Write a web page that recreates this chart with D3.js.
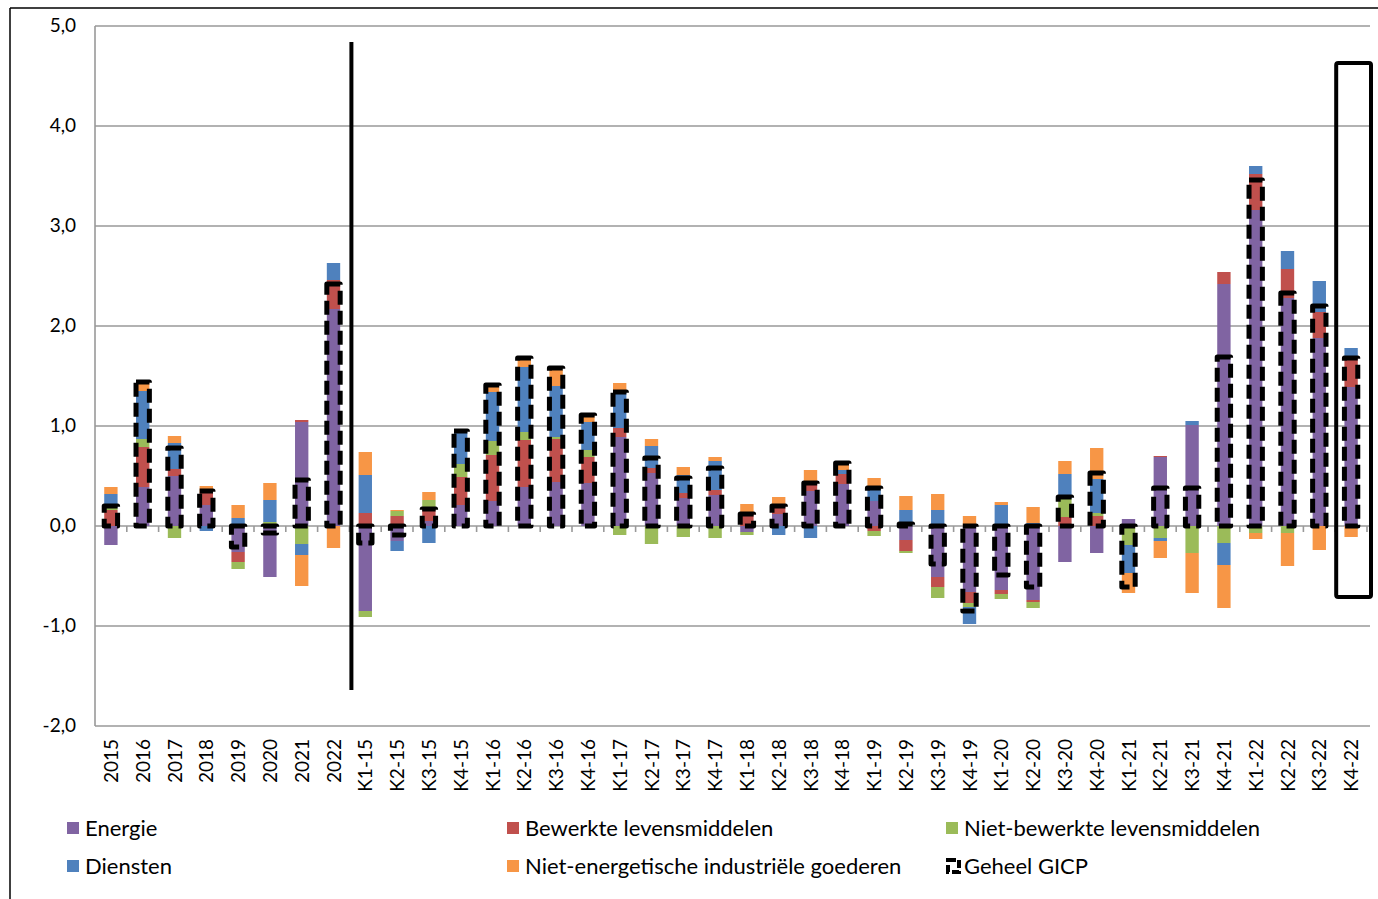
<!DOCTYPE html>
<html>
<head>
  <title>Bijdragen tot de GICP-inflatie</title>
  <style>
    body { margin: 0; background: #fff; }
    text { font-family: Lato, "Open Sans", sans-serif; fill: #000; }
    .grid line { stroke: #999; stroke-width: 1.6px; }
    .ytick { font-size: 19px; }
    .xtick { font-size: 19px; }
    .legend text { font-size: 22px; }
  </style>
</head>
<body>
  <svg id="chart" width="1378" height="899"></svg>

  <script src="https://d3js.org/d3.v7.min.js"></script>
  <script>
    // Categories: annual averages, then quarters
    const categories = ["2015", "2016", "2017", "2018", "2019", "2020", "2021", "2022",
      "K1-15", "K2-15", "K3-15", "K4-15", "K1-16", "K2-16", "K3-16", "K4-16",
      "K1-17", "K2-17", "K3-17", "K4-17", "K1-18", "K2-18", "K3-18", "K4-18",
      "K1-19", "K2-19", "K3-19", "K4-19", "K1-20", "K2-20", "K3-20", "K4-20",
      "K1-21", "K2-21", "K3-21", "K4-21", "K1-22", "K2-22", "K3-22", "K4-22"];

    const energie = [-0.19, 0.39, 0.50, 0.21, -0.26, -0.51, 1.04, 2.17,
      -0.85, -0.15, 0.05, 0.21, 0.25, 0.39, 0.44, 0.43,
      0.89, 0.53, 0.28, 0.31, -0.06, 0.12, 0.35, 0.42,
      0.25, -0.14, -0.51, -0.66, -0.64, -0.74, -0.36, -0.27,
      0.07, 0.69, 1.01, 2.42, 3.16, 2.28, 1.88, 1.39];

    const bewerkte = [0.16, 0.40, 0.07, 0.12, -0.10, 0.00, 0.02, 0.29,
      0.13, 0.10, 0.13, 0.28, 0.46, 0.47, 0.43, 0.26,
      0.09, 0.05, 0.05, 0.05, 0.14, 0.09, 0.09, 0.10,
      -0.05, -0.11, -0.10, -0.11, -0.04, -0.02, 0.09, 0.10,
      -0.02, 0.01, 0.00, 0.12, 0.36, 0.29, 0.26, 0.31];

    const nietBewerkte = [0.02, 0.08, -0.12, 0.00, -0.07, 0.04, -0.18, 0.00,
      -0.06, 0.05, 0.08, 0.13, 0.14, 0.08, 0.02, 0.07,
      -0.09, -0.18, -0.11, -0.12, -0.03, 0.00, 0.00, 0.00,
      -0.05, -0.02, -0.11, -0.04, -0.05, -0.06, 0.18, 0.03,
      -0.17, -0.12, -0.27, -0.17, -0.07, -0.07, 0.00, 0.00];

    const diensten = [0.14, 0.48, 0.26, -0.05, 0.08, 0.22, -0.11, 0.17,
      0.38, -0.10, -0.17, 0.32, 0.49, 0.65, 0.51, 0.28,
      0.38, 0.22, 0.18, 0.29, 0.00, -0.09, -0.12, 0.04,
      0.12, 0.16, 0.16, -0.17, 0.21, 0.03, 0.25, 0.34,
      -0.28, -0.03, 0.04, -0.22, 0.08, 0.18, 0.31, 0.08];

    const neig = [0.07, 0.09, 0.07, 0.07, 0.13, 0.17, -0.31, -0.22,
      0.23, 0.01, 0.08, 0.00, 0.07, 0.09, 0.16, 0.07,
      0.07, 0.07, 0.08, 0.04, 0.08, 0.08, 0.12, 0.08,
      0.11, 0.14, 0.16, 0.10, 0.03, 0.16, 0.13, 0.31,
      -0.20, -0.17, -0.40, -0.43, -0.06, -0.33, -0.24, -0.11];

    const gicp = [0.20, 1.44, 0.78, 0.35, -0.21, -0.07, 0.46, 2.42,
      -0.17, -0.09, 0.17, 0.95, 1.41, 1.68, 1.58, 1.11,
      1.34, 0.68, 0.48, 0.58, 0.12, 0.20, 0.43, 0.63,
      0.38, 0.02, -0.38, -0.85, -0.49, -0.61, 0.29, 0.53,
      -0.61, 0.38, 0.38, 1.69, 3.46, 2.33, 2.20, 1.68];

    const yTicks = [-2, -1, 0, 1, 2, 3, 4, 5];

    const series = [
      { key: "energie", name: "Energie", color: "#8064A2", values: energie },
      { key: "bewerkte", name: "Bewerkte levensmiddelen", color: "#C0504D", values: bewerkte },
      { key: "nietBewerkte", name: "Niet-bewerkte levensmiddelen", color: "#9BBB59", values: nietBewerkte },
      { key: "diensten", name: "Diensten", color: "#4F81BD", values: diensten },
      { key: "neig", name: "Niet-energetische industriële goederen", color: "#F79646", values: neig }
    ];

    const svg = d3.select("#chart");

    // outer frame of the picture
    svg.append("line").attr("x1", 10).attr("y1", 8).attr("x2", 1378).attr("y2", 8)
      .attr("stroke", "#000").attr("stroke-width", 1.5);
    svg.append("line").attr("x1", 10).attr("y1", 8).attr("x2", 10).attr("y2", 899)
      .attr("stroke", "#000").attr("stroke-width", 1.5);

    const x = d3.scaleBand().domain(categories).range([95, 1367]).paddingInner(0.58).paddingOuter(0.29);
    const xOuter = d3.scaleBand().domain(categories).range([95, 1367]);
    const y = d3.scaleLinear().domain([-2, 5]).range([726, 26]);

    // gridlines
    const grid = svg.append("g").attr("class", "grid");
    grid.selectAll("line").data(yTicks).enter().append("line")
      .attr("x1", 95).attr("x2", 1370)
      .attr("y1", d => y(d)).attr("y2", d => y(d));

    // y axis line
    svg.append("line").attr("x1", 95).attr("x2", 95).attr("y1", y(5)).attr("y2", y(-2))
      .attr("stroke", "#999").attr("stroke-width", 1.6);

    // y tick labels
    svg.selectAll(".ytick").data(yTicks).enter().append("text")
      .attr("class", "ytick")
      .attr("x", 76).attr("y", d => y(d) + 6)
      .attr("text-anchor", "end")
      .text(d => d3.format(".1f")(d).replace(".", ",").replace("−", "-"));

    // category ticks on zero line
    svg.selectAll(".ctick").data(categories).enter().append("line")
      .attr("x1", d => xOuter(d) + xOuter.bandwidth()).attr("x2", d => xOuter(d) + xOuter.bandwidth())
      .attr("y1", y(0)).attr("y2", y(0) + 6)
      .attr("stroke", "#999").attr("stroke-width", 1.6);

    // stacked bars
    const table = categories.map((c, i) => {
      const row = { cat: c };
      series.forEach(s => row[s.key] = s.values[i]);
      return row;
    });
    const stack = d3.stack().keys(series.map(s => s.key)).offset(d3.stackOffsetDiverging);
    const stacked = stack(table);

    stacked.forEach((layer, li) => {
      svg.append("g").attr("fill", series[li].color)
        .selectAll("rect").data(layer).enter().append("rect")
        .attr("x", d => x(d.data.cat))
        .attr("width", x.bandwidth())
        .attr("y", d => y(Math.max(d[0], d[1])))
        .attr("height", d => Math.abs(y(d[0]) - y(d[1])));
    });

    // Geheel GICP as dashed outline bars
    svg.append("g").selectAll("rect").data(gicp).enter().append("rect")
      .attr("x", (d, i) => x(categories[i]))
      .attr("width", x.bandwidth())
      .attr("y", d => y(Math.max(0, d)))
      .attr("height", d => Math.abs(y(d) - y(0)))
      .attr("fill", "none")
      .attr("stroke", "#000")
      .attr("stroke-width", 5)
      .attr("stroke-dasharray", "14,6")
      .attr("stroke-linejoin", "round");

    // x labels, rotated
    svg.selectAll(".xtick").data(categories).enter().append("text")
      .attr("class", "xtick")
      .attr("transform", d => `translate(${x(d) + x.bandwidth() / 2 + 7},${y(-2) + 13}) rotate(-90)`)
      .attr("text-anchor", "end")
      .text(d => d);

    // separator between annual and quarterly figures
    const sepX = xOuter("K1-15") + 2;
    svg.append("line").attr("x1", sepX).attr("x2", sepX)
      .attr("y1", y(4.84)).attr("y2", y(-1.64))
      .attr("stroke", "#000").attr("stroke-width", 4);

    // highlight box on the last quarter
    svg.append("rect")
      .attr("x", xOuter("K4-22") + 1)
      .attr("width", xOuter.bandwidth() + 3)
      .attr("y", y(4.63)).attr("height", y(-0.71) - y(4.63))
      .attr("fill", "none").attr("stroke", "#000").attr("stroke-width", 4)
      .attr("rx", 2);

    // legend
    const legendItems = [
      { name: "Energie", color: "#8064A2", col: 0, row: 0 },
      { name: "Bewerkte levensmiddelen", color: "#C0504D", col: 1, row: 0 },
      { name: "Niet-bewerkte levensmiddelen", color: "#9BBB59", col: 2, row: 0 },
      { name: "Diensten", color: "#4F81BD", col: 0, row: 1 },
      { name: "Niet-energetische industriële goederen", color: "#F79646", col: 1, row: 1 },
      { name: "Geheel GICP", color: null, col: 2, row: 1 }
    ];
    const colX = [67, 507, 946];
    const rowY = [828, 866];
    const legend = svg.append("g").attr("class", "legend");
    legendItems.forEach(item => {
      const g = legend.append("g").attr("transform", `translate(${colX[item.col]},${rowY[item.row]})`);
      if (item.color) {
        g.append("rect").attr("x", 0).attr("y", -6).attr("width", 12).attr("height", 12).attr("fill", item.color);
      } else {
        g.append("rect").attr("x", 2).attr("y", -6).attr("width", 11).attr("height", 12)
          .attr("fill", "none").attr("stroke", "#000").attr("stroke-width", 4)
          .attr("stroke-dasharray", "8,3");
      }
      g.append("text").attr("x", 18).attr("y", 8).text(item.name);
    });
  </script>
</body>
</html>
